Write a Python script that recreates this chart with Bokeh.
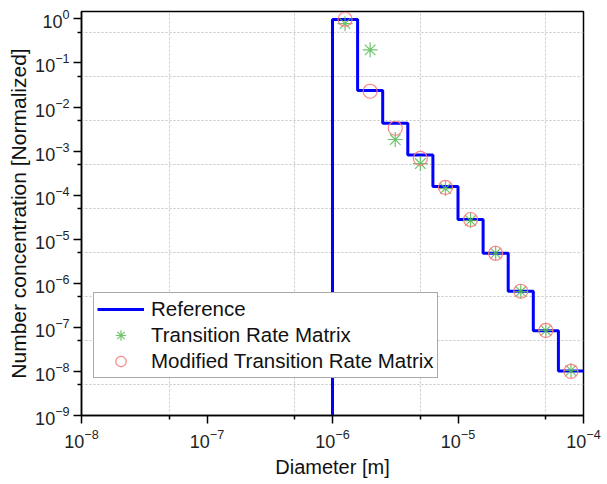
from bokeh.plotting import figure
from bokeh.models import Range1d, FixedTicker, LogTickFormatter, Legend, LegendItem
from bokeh.embed import file_html
from bokeh.resources import INLINE

# ---- data ----
bin_edges = [1.0e-6, 1.585e-6, 2.512e-6, 3.981e-6, 6.310e-6, 1.0e-5,
             1.585e-5, 2.512e-5, 3.981e-5, 6.310e-5, 1.0e-4]
reference_levels = [0.97, 2.36e-2, 4.28e-3, 8.2e-4, 1.58e-4, 2.8e-5,
                    4.8e-6, 6.6e-7, 8.4e-8, 1.02e-8]
diameters = [1.259e-6, 1.995e-6, 3.162e-6, 5.012e-6, 7.943e-6, 1.259e-5,
             1.995e-5, 3.162e-5, 5.012e-5, 7.943e-5]
trm_values = [0.78, 0.198, 1.83e-3, 5.2e-4, 1.41e-4, 2.65e-5,
              4.8e-6, 6.5e-7, 8.5e-8, 1.05e-8]
mtrm_values = [0.98, 2.28e-2, 3.3e-3, 6.8e-4, 1.5e-4, 2.8e-5,
               4.8e-6, 6.6e-7, 8.5e-8, 1.0e-8]

x_major = [1e-8, 1e-7, 1e-6, 1e-5, 1e-4]
x_minor = [5e-8, 5e-7, 5e-6, 5e-5]
y_major = [1e-9, 1e-8, 1e-7, 1e-6, 1e-5, 1e-4, 1e-3, 1e-2, 1e-1, 1e0]
y_minor = [5e-9, 5e-8, 5e-7, 5e-6, 5e-5, 5e-4, 5e-3, 5e-2, 5e-1]
x_lim = (1e-8, 1e-4)
y_lim = (1e-9, 1.47)

# step outline built from edges and levels
step_x = [bin_edges[0]]
step_y = [1e-12]
for i, lvl in enumerate(reference_levels):
    step_x += [bin_edges[i], bin_edges[i + 1]]
    step_y += [lvl, lvl]

FONT = "Liberation Sans"

p = figure(width=607, height=484, x_axis_type="log", y_axis_type="log",
           x_range=Range1d(*x_lim), y_range=Range1d(*y_lim),
           output_backend="svg", toolbar_location=None,
           min_border_left=81, min_border_right=24, min_border_top=11,
           min_border_bottom=69)
p.background_fill_color = "white"
p.border_fill_color = "white"
p.outline_line_color = "black"
p.outline_line_width = 1.5

for ax, maj, mnr in ((p.xaxis[0], x_major, x_minor), (p.yaxis[0], y_major, y_minor)):
    ax.ticker = FixedTicker(ticks=maj, minor_ticks=mnr)
    ax.formatter = LogTickFormatter()
    ax.axis_line_color = "black"
    ax.axis_line_width = 1.5
    ax.major_tick_line_color = "black"
    ax.major_tick_line_width = 1.5
    ax.minor_tick_line_color = "black"
    ax.minor_tick_line_width = 1.5
    ax.major_tick_in = 0
    ax.major_tick_out = 8
    ax.minor_tick_in = 0
    ax.minor_tick_out = 4
    ax.major_label_text_font = FONT
    ax.major_label_text_font_size = "18px"
    ax.major_label_text_color = "#222222"
    ax.axis_label_text_font = FONT
    ax.axis_label_text_font_style = "normal"
    ax.axis_label_text_color = "#111111"

p.xaxis.axis_label = "Diameter [m]"
p.yaxis.axis_label = "Number concentration [Normalized]"
p.xaxis.axis_label_text_font_size = "20px"
p.yaxis.axis_label_text_font_size = "21px"
p.xaxis.major_label_standoff = 5
p.xaxis.axis_label_standoff = 5
p.yaxis.major_label_standoff = 4
p.yaxis.axis_label_standoff = 2

p.xgrid.ticker = FixedTicker(ticks=x_minor)
p.ygrid.ticker = FixedTicker(ticks=y_minor)
for g in (p.xgrid[0], p.ygrid[0]):
    g.grid_line_color = "#c4c4c4"
    g.grid_line_dash = "2 2"
    g.grid_line_width = 1

r_ref = p.line(step_x, step_y, line_color="#0000ff", line_width=3)
r_trm = p.scatter(diameters, trm_values, marker="asterisk", size=15,
                  line_color="#55bb55", line_width=1.2, line_alpha=0.85)
r_mtrm = p.scatter(diameters, mtrm_values, marker="circle", size=14,
                   line_color="#ff7777", line_width=1.2, fill_alpha=0,
                   line_alpha=0.9)

legend = Legend(items=[LegendItem(label="Reference", renderers=[r_ref]),
                       LegendItem(label="Transition Rate Matrix", renderers=[r_trm]),
                       LegendItem(label="Modified Transition Rate Matrix", renderers=[r_mtrm])],
                location=(12, 37))
legend.label_text_font = FONT
legend.label_text_font_size = "20.5px"
legend.label_text_color = "#111111"
legend.glyph_width = 47
legend.glyph_height = 26
legend.label_height = 26
legend.label_standoff = 7
legend.padding = 3
legend.spacing = 0
legend.margin = 0
legend.border_line_color = "#555555"
legend.border_line_width = 1.2
legend.background_fill_alpha = 1
p.add_layout(legend, "center")

open("out.html", "w").write(file_html(p, INLINE))
